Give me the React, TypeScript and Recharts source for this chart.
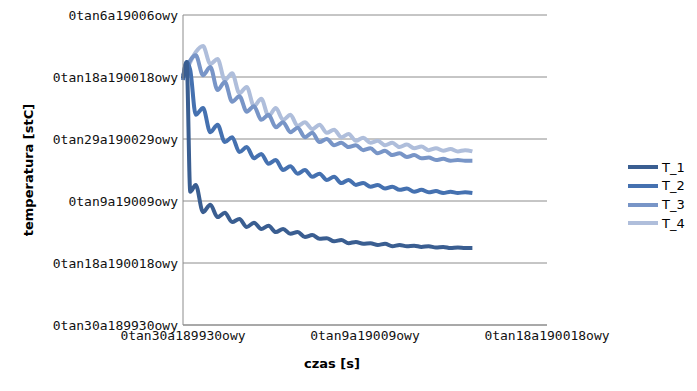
import { CartesianGrid, Line, LineChart, XAxis, YAxis } from "recharts";

// czas [s] — shared sample times (peaks/troughs of the oscillation)
const time = [
  0, 0.02, 0.04, 0.07, 0.11, 0.15, 0.19, 0.23, 0.27, 0.31, 0.35, 0.39, 0.43, 0.47,
  0.51, 0.55, 0.59, 0.63, 0.67, 0.71, 0.75, 0.79, 0.83, 0.87, 0.91, 0.95, 0.99,
  1.03, 1.07, 1.11, 1.15, 1.19, 1.23, 1.27, 1.31, 1.35, 1.39, 1.43, 1.47, 1.51,
  1.55, 1.59,
];

const t1 = [
  3.98, 4.24, 2.15, 2.26, 1.82, 1.94, 1.74, 1.81, 1.66, 1.71, 1.58, 1.65, 1.55, 1.6,
  1.5, 1.55, 1.47, 1.5, 1.42, 1.45, 1.39, 1.4, 1.35, 1.37, 1.32, 1.34, 1.31, 1.32,
  1.29, 1.31, 1.27, 1.29, 1.27, 1.28, 1.26, 1.27, 1.25, 1.26, 1.24, 1.25, 1.24, 1.24,
];

const t2 = [
  3.95, 4.24, 4.11, 3.39, 3.5, 3.11, 3.23, 2.95, 3.03, 2.79, 2.87, 2.69, 2.76, 2.6,
  2.66, 2.5, 2.56, 2.44, 2.5, 2.39, 2.44, 2.34, 2.39, 2.29, 2.34, 2.26, 2.29, 2.23,
  2.26, 2.2, 2.23, 2.18, 2.2, 2.15, 2.18, 2.14, 2.16, 2.13, 2.15, 2.13, 2.14, 2.13,
];

const t3 = [
  4.02, 4.16, 4.27, 4.35, 4.03, 4.16, 3.79, 3.92, 3.6, 3.69, 3.44, 3.53, 3.31, 3.39,
  3.19, 3.27, 3.11, 3.18, 3.03, 3.1, 2.95, 3.0, 2.9, 2.94, 2.87, 2.9, 2.82, 2.85,
  2.77, 2.81, 2.74, 2.77, 2.71, 2.74, 2.69, 2.7, 2.66, 2.68, 2.65, 2.66, 2.65, 2.65,
];

const t4 = [
  3.98, 4.11, 4.24, 4.4, 4.5, 4.21, 4.29, 3.95, 4.06, 3.74, 3.84, 3.53, 3.65, 3.37,
  3.5, 3.31, 3.39, 3.21, 3.27, 3.16, 3.23, 3.1, 3.15, 3.03, 3.08, 2.97, 3.02, 2.94,
  2.97, 2.9, 2.94, 2.87, 2.91, 2.85, 2.88, 2.82, 2.85, 2.81, 2.84, 2.8, 2.82, 2.8,
];

const yTicks = [0, 1, 2, 3, 4, 5];
const yTickLabels = [
  "0tan30a189930owy",
  "0tan18a190018owy",
  "0tan9a19009owy",
  "0tan29a190029owy",
  "0tan18a190018owy",
  "0tan6a19006owy",
];
const xTicks = [0, 1, 2];
const xTickLabels = ["0tan30a189930owy", "0tan9a19009owy", "0tan18a190018owy"];

const seriesNames = ["T_1", "T_2", "T_3", "T_4"];
const seriesColors = ["#3a5e91", "#4571b0", "#7895c7", "#afbedb"];

const rows = time.map((t, i) => ({
  t,
  T_1: t1[i],
  T_2: t2[i],
  T_3: t3[i],
  T_4: t4[i],
}));

const tickFont = { fontFamily: "DejaVu Sans Mono", fontSize: 13, fill: "#111" };

export default function App() {
  return (
    <div
      style={{
        position: "absolute",
        left: 0,
        top: 0,
        width: 697,
        height: 391,
        background: "#fff",
        fontFamily: "DejaVu Sans",
      }}
    >
      <LineChart
        width={697}
        height={391}
        data={rows}
        margin={{ top: 15, right: 150, bottom: 0, left: 0 }}
      >
        <CartesianGrid vertical={false} stroke="#8c8c8c" />
        <XAxis
          dataKey="t"
          type="number"
          domain={[0, 2]}
          ticks={xTicks}
          tickFormatter={(v: number) => xTickLabels[xTicks.indexOf(v)]}
          height={66}
          tickLine={false}
          tickSize={6}
          tickMargin={0}
          axisLine={{ stroke: "#8c8c8c" }}
          tick={tickFont}
          interval={0}
        />
        <YAxis
          type="number"
          domain={[0, 5]}
          ticks={yTicks}
          tickFormatter={(v: number) => yTickLabels[yTicks.indexOf(v)]}
          width={183}
          tickLine={false}
          tickSize={5}
          tickMargin={0}
          axisLine={{ stroke: "#8c8c8c" }}
          tick={tickFont}
          interval={0}
        />
        {[3, 2, 1, 0].map((i) => (
          <Line
            key={seriesNames[i]}
            dataKey={seriesNames[i]}
            type="monotone"
            stroke={seriesColors[i]}
            strokeWidth={4}
            dot={false}
            activeDot={false}
            isAnimationActive={false}
          />
        ))}
      </LineChart>

      {/* axis titles */}
      <div
        style={{
          position: "absolute",
          left: 28,
          top: 170,
          transform: "translate(-50%, -50%) rotate(-90deg)",
          whiteSpace: "nowrap",
          fontWeight: "bold",
          fontSize: 13,
        }}
      >
        temperatura [stC]
      </div>
      <div
        style={{
          position: "absolute",
          left: 332,
          top: 363,
          transform: "translate(-50%, -50%)",
          whiteSpace: "nowrap",
          fontWeight: "bold",
          fontSize: 13,
        }}
      >
        czas [s]
      </div>

      {/* legend */}
      {seriesNames.map((name, i) => (
        <div
          key={name}
          style={{
            position: "absolute",
            left: 628,
            top: 167 + i * 18.8 - 8,
            height: 16,
            display: "flex",
            alignItems: "center",
            fontSize: 13,
          }}
        >
          <div style={{ width: 30, height: 4, background: seriesColors[i] }} />
          <span style={{ marginLeft: 4 }}>{name}</span>
        </div>
      ))}
    </div>
  );
}
